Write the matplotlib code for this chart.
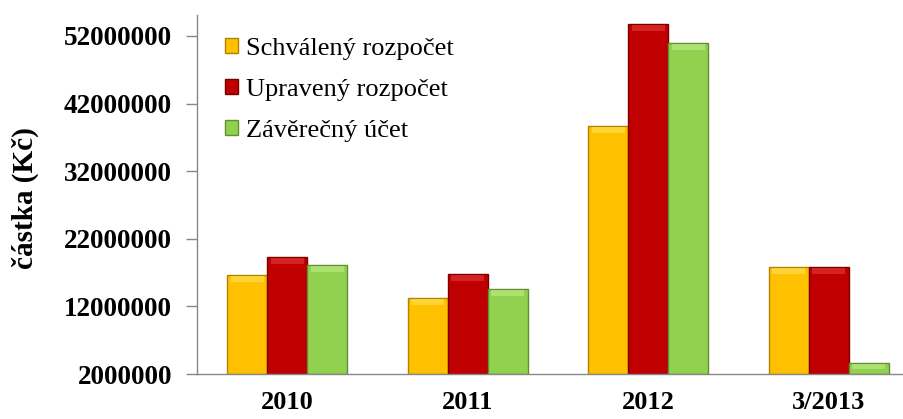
import matplotlib
matplotlib.use("Agg")
import matplotlib.pyplot as plt
import numpy as np

categories = ["2010", "2011", "2012", "3/2013"]
series_names = ["Schválený rozpočet", "Upravený rozpočet", "Závěrečný účet"]
schvaleny = [16600000, 13200000, 38700000, 17800000]
upraveny = [19300000, 16800000, 53800000, 17800000]
zaverecny = [18100000, 14600000, 51000000, 3700000]
yticks = [2000000, 12000000, 22000000, 32000000, 42000000, 52000000]

face = ["#FFC000", "#C00000", "#92D050"]
edge = ["#B08400", "#7A0000", "#5F8F32"]
hi = ["#FFE566", "#E84040", "#C2F08A"]

plt.rcParams['font.family'] = ['Liberation Serif', 'DejaVu Serif']

W, H = 904, 419
fig = plt.figure(figsize=(W / 100, H / 100), dpi=100)
ax = fig.add_axes([197 / W, 1 - 374 / H, (919 - 197) / W, (374 - 15) / H])

x = np.arange(len(categories))
bw = 0.222
ymin = 2000000
series = [schvaleny, upraveny, zaverecny]
for i, vals in enumerate(series):
    xs = x + (i - 1) * bw
    heights = np.array(vals) - ymin
    ax.bar(xs, heights, bw, bottom=ymin, color=face[i], edgecolor=edge[i],
           linewidth=1.0, label=series_names[i], zorder=2)
    # bevel highlight at the top of each bar
    cap = np.minimum(heights * 0.5, 900000)
    ax.bar(xs, cap, bw * 0.82, bottom=np.array(vals) - cap - 150000,
           color=hi[i], edgecolor='none', alpha=0.55, zorder=3)

ax.set_xlim(-0.5, len(categories) - 0.5)
ax.set_ylim(ymin, 55100000)
ax.set_yticks(yticks)
ax.set_yticklabels([str(v) for v in yticks], fontsize=19.5, fontweight='bold')
ax.set_xticks(x)
ax.set_xticklabels(categories, fontsize=19, fontweight='bold')
ax.tick_params(axis='x', length=0, pad=12)
ax.tick_params(axis='y', length=8, width=1, color='#888888', pad=10)
for s in ['top', 'right']:
    ax.spines[s].set_visible(False)
for s in ['left', 'bottom']:
    ax.spines[s].set_color('#888888')
    ax.spines[s].set_linewidth(1.0)

fig.text(25 / W, 1 - 198 / H, "částka (Kč)", rotation=90, fontsize=21,
         fontweight='bold', ha='center', va='center')

leg = ax.legend(loc='upper left', bbox_to_anchor=(0.039, 0.937), frameon=False,
                fontsize=19, handlelength=0.5, handleheight=0.5,
                handletextpad=0.3, labelspacing=0.72, borderpad=0,
                borderaxespad=0)

fig.savefig("out.png", dpi=100)
